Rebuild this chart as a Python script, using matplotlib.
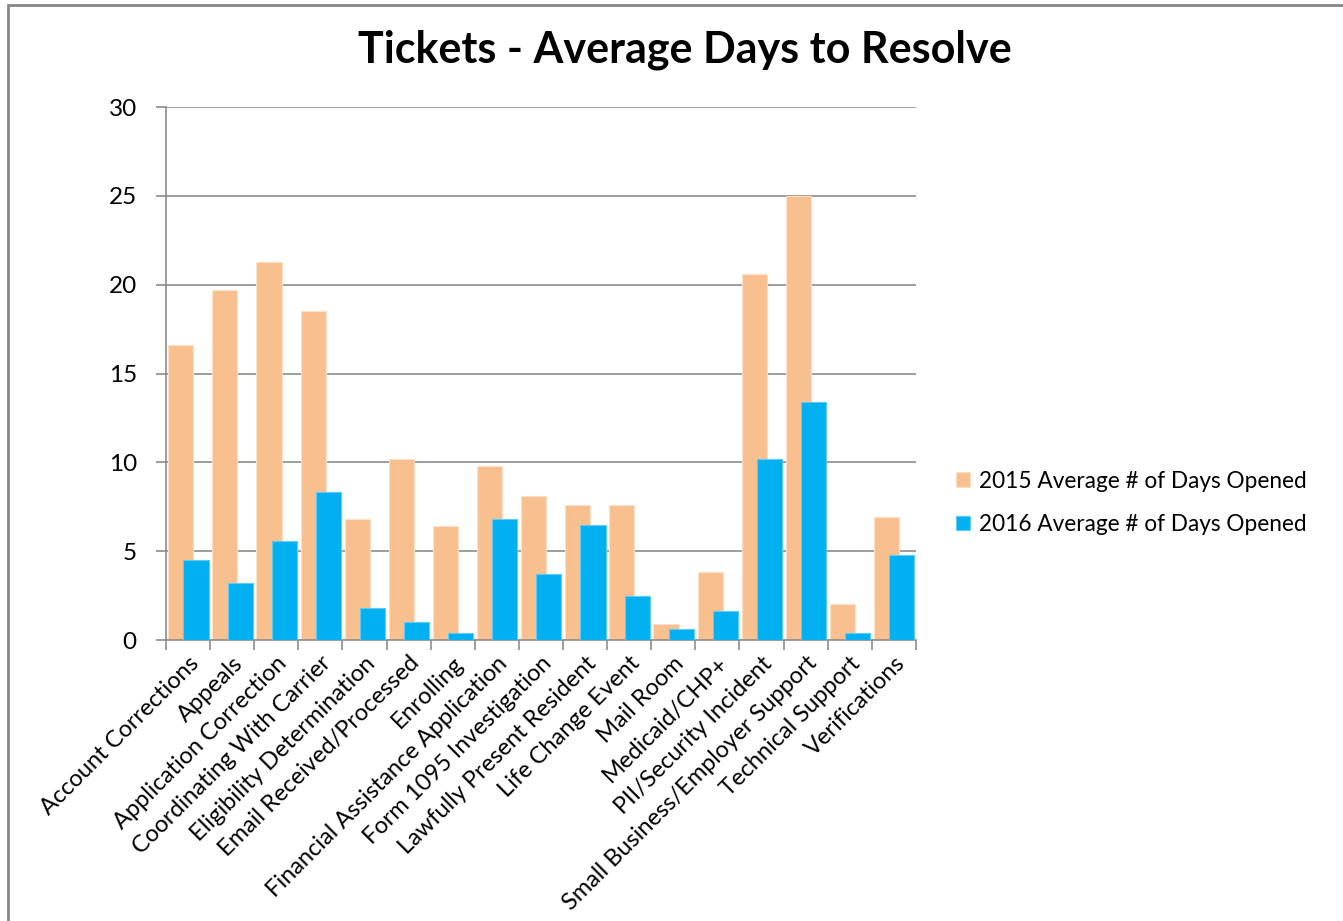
import numpy as np
import matplotlib.pyplot as plt
from matplotlib.patches import Rectangle

plt.rcParams['font.family'] = ['Lato', 'DejaVu Sans']

categories = ["Account Corrections", "Appeals", "Application Correction",
              "Coordinating With Carrier", "Eligibility Determination",
              "Email Received/Processed", "Enrolling",
              "Financial Assistance Application", "Form 1095 Investigation",
              "Lawfully Present Resident", "Life Change Event", "Mail Room",
              "Medicaid/CHP+", "PII/Security Incident",
              "Small Business/Employer Support", "Technical Support",
              "Verifications"]
days_2015 = [16.6, 19.7, 21.3, 18.5, 6.8, 10.2, 6.4, 9.8, 8.1, 7.6, 7.6,
             0.9, 3.8, 20.6, 25.0, 2.0, 6.9]
days_2016 = [4.5, 3.2, 5.6, 8.35, 1.8, 1.0, 0.4, 6.8, 3.7, 6.5, 2.5,
             0.6, 1.65, 10.2, 13.4, 0.4, 4.8]
labels = ["2015 Average # of Days Opened", "2016 Average # of Days Opened"]

orange = "#F9C08F"
blue = "#00B0F0"
grey = "#8C8C8C"

fig = plt.figure(figsize=(13.43, 9.21), dpi=100)
ax = fig.add_axes([0.1236, 0.3051, 0.5584, 0.5787])

x = np.arange(len(categories))
w = 0.57
ax.bar(x - 0.165, days_2015, w, color=orange, edgecolor="#FCE0C8",
       linewidth=0.8, label=labels[0], zorder=2)
ax.bar(x + 0.18, days_2016, w, color=blue, edgecolor="#5CCBF5",
       linewidth=0.8, label=labels[1], zorder=3)

ax.set_xlim(-0.5, len(categories) - 0.5)
ax.set_ylim(0, 30)
ax.set_yticks(range(0, 31, 5))
ax.yaxis.grid(True, color=grey, linewidth=1.2, zorder=0)
ax.set_axisbelow(True)

ax.set_xticks(x)
ax.set_xticklabels(categories, rotation=45, ha='right', rotation_mode='anchor',
                   fontsize=17)
ax.tick_params(axis='x', length=0, pad=9)
ax.set_xticks(np.arange(-0.5, len(categories)), minor=True)
ax.tick_params(axis='x', which='minor', length=7, color=grey, width=1.2)
ax.tick_params(axis='y', labelsize=17.5, length=7, color=grey, width=1.2, pad=14)

for s in ['top', 'right']:
    ax.spines[s].set_visible(False)
for s in ['left', 'bottom']:
    ax.spines[s].set_color(grey)
    ax.spines[s].set_linewidth(1.2)

fig.text(0.51, 0.946, "Tickets - Average Days to Resolve", ha='center',
         va='center', fontsize=31, fontweight='bold')

fig.legend(loc='center left', bbox_to_anchor=(0.7, 0.454), frameon=False,
           fontsize=16.3, handlelength=0.6, handleheight=0.6, handletextpad=0.4,
           labelspacing=1.0, borderpad=0.2)

# outer chart border (top and left edges visible in the crop)
fig.patches.append(Rectangle((0.006, -0.05), 1.1, 1.045, transform=fig.transFigure,
                             fill=False, edgecolor="#888888", linewidth=2))

fig.savefig("out.png", dpi=100)
